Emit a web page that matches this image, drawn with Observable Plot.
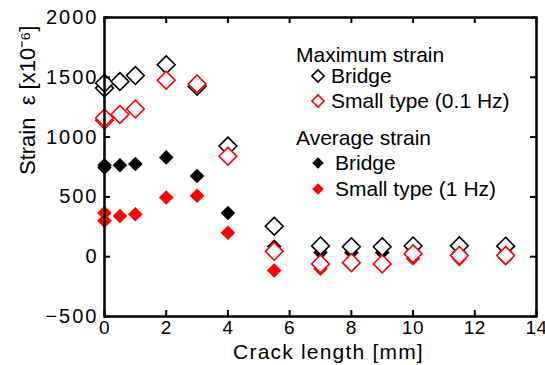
<!DOCTYPE html>
<html>
<head>
<meta charset="utf-8">
<script src="https://cdn.jsdelivr.net/npm/d3@7"></script>
<script src="https://cdn.jsdelivr.net/npm/@observablehq/plot@0.6"></script>
<style>
  html, body { margin: 0; padding: 0; background: #fff; }
  #wrap { position: relative; width: 545px; height: 365px; font-family: Arial, "Liberation Sans", sans-serif; }
  #legend { position: absolute; left: 0; top: 0; pointer-events: none; }
</style>
</head>
<body>
<div id="wrap"></div>
<script>
// ---- data ----
const crack      = [0, 0, 0.5, 1, 2, 3, 4, 5.5, 7, 8, 9, 10, 11.5, 13];
const maxBridge  = [1410, 1450, 1465, 1515, 1605, 1425, 925, 255, 90, 83, 83, 90, 92, 88];
const maxSmall   = [1140, 1160, 1190, 1235, 1475, 1445, 840, 45, -60, -50, -60, 25, 10, 10];
const avgBridge  = [745, 765, 765, 775, 830, 675, 365, 85, 35, 35, 35, 45, 35, 35];
const avgSmall   = [300, 365, 340, 355, 495, 510, 200, -115, -100, -50, -65, -15, -20, -15];
const xTicks = [0, 2, 4, 6, 8, 10, 12, 14];
const yTicks = [-500, 0, 500, 1000, 1500, 2000];
const xLabel = "Crack length [mm]";
const yLabel = "Strain  \u03B5 [x10\u207B\u2076]";
const legendItems = [
  {label: "Maximum strain", kind: "header"},
  {label: "Bridge", kind: "open", color: "black"},
  {label: "Small type (0.1 Hz)", kind: "open", color: "red"},
  {label: "Average strain", kind: "header"},
  {label: "Bridge", kind: "filled", color: "black"},
  {label: "Small type (1 Hz)", kind: "filled", color: "red"}
];

const rows = (ys) => crack.map((x, i) => ({x, y: ys[i]}));

const W = 545, H = 365;
const mL = 104, mR = 9, mT = 17, mB = 49;
const innerW = W - mL - mR, innerH = H - mT - mB;
const font = "Arial, 'Liberation Sans', sans-serif";

const chart = Plot.plot({
  width: W, height: H,
  marginLeft: mL, marginRight: mR, marginTop: mT, marginBottom: mB,
  style: {fontFamily: font, background: "white", overflow: "visible"},
  x: {domain: [0, 14], axis: null},
  y: {domain: [-500, 2000], axis: null},
  marks: [
    Plot.dot(rows(avgBridge), {x: "x", y: "y", symbol: "diamond2", r: 6.6, fill: "black", stroke: "none"}),
    Plot.dot(rows(avgSmall), {x: "x", y: "y", symbol: "diamond2", r: 6.6, fill: "#ff0000", stroke: "none"}),
    Plot.dot(rows(maxBridge), {x: "x", y: "y", symbol: "diamond2", r: 8, fill: "white", stroke: "black", strokeWidth: 1.6}),
    Plot.dot(rows(maxSmall), {x: "x", y: "y", symbol: "diamond2", r: 8, fill: "white", stroke: "#ff0000", strokeWidth: 1.6}),
    // inward ticks on all four sides
    Plot.tickX(xTicks, {x: d => d, insetTop: innerH - 6, stroke: "black", strokeWidth: 2}),
    Plot.tickX(xTicks, {x: d => d, insetBottom: innerH - 6, stroke: "black", strokeWidth: 2}),
    Plot.tickY(yTicks, {y: d => d, insetRight: innerW - 6, stroke: "black", strokeWidth: 2}),
    Plot.tickY(yTicks, {y: d => d, insetLeft: innerW - 6, stroke: "black", strokeWidth: 2}),
    Plot.frame({stroke: "black", strokeWidth: 2.5}),
    Plot.axisX({ticks: xTicks, tickSize: 0, tickPadding: 4, fontSize: 19, label: null, tickFormat: d3.format("d")}),
    Plot.axisY({ticks: yTicks, tickSize: 0, tickPadding: 6, fontSize: 20, label: null, tickFormat: d3.format("d")}),
    Plot.text([xLabel], {text: d => d, frameAnchor: "bottom", dy: 36, dx: 8, fontSize: 21, fill: "black", lineAnchor: "middle"}),
    Plot.text([yLabel], {text: d => d, frameAnchor: "left", rotate: -90, dx: -77, dy: 8, fontSize: 22, fill: "black", lineAnchor: "middle"})
  ]
});

const sel = d3.select(chart);
sel.selectAll("[aria-label='y-axis tick label'] text").style("letter-spacing", "2px");
sel.selectAll("[aria-label='x-axis tick label'] text").style("letter-spacing", "0.5px");
sel.selectAll("[aria-label='x-axis tick label'] text, [aria-label='y-axis tick label'] text").attr("fill", "black");
sel.selectAll("[aria-label='text'] text").filter(function() { return this.textContent === xLabel; }).style("letter-spacing", "1.2px");

const wrap = document.getElementById("wrap");
wrap.appendChild(chart);

// ---- legend overlay ----
const leg = d3.select(wrap).append("svg")
  .attr("id", "legend").attr("width", W).attr("height", H)
  .style("font-family", font);
const baselines = [62, 83, 108, 145, 170, 196];
legendItems.forEach((it, i) => {
  const b = baselines[i];
  if (it.kind === "header") {
    leg.append("text").attr("x", 296).attr("y", b).attr("font-size", 21).attr("fill", "black").text(it.label);
  } else {
    const open = it.kind === "open";
    const sym = d3.symbol(d3.symbolDiamond2, open ? 95 : 85)();
    leg.append("path").attr("d", sym)
      .attr("transform", `translate(318,${b - 7})`)
      .attr("fill", open ? "white" : it.color)
      .attr("stroke", open ? it.color : "none")
      .attr("stroke-width", 1.6);
    leg.append("text").attr("x", open ? 331 : 335).attr("y", b).attr("font-size", 21).attr("fill", "black").text(it.label);
  }
});
</script>
</body>
</html>
